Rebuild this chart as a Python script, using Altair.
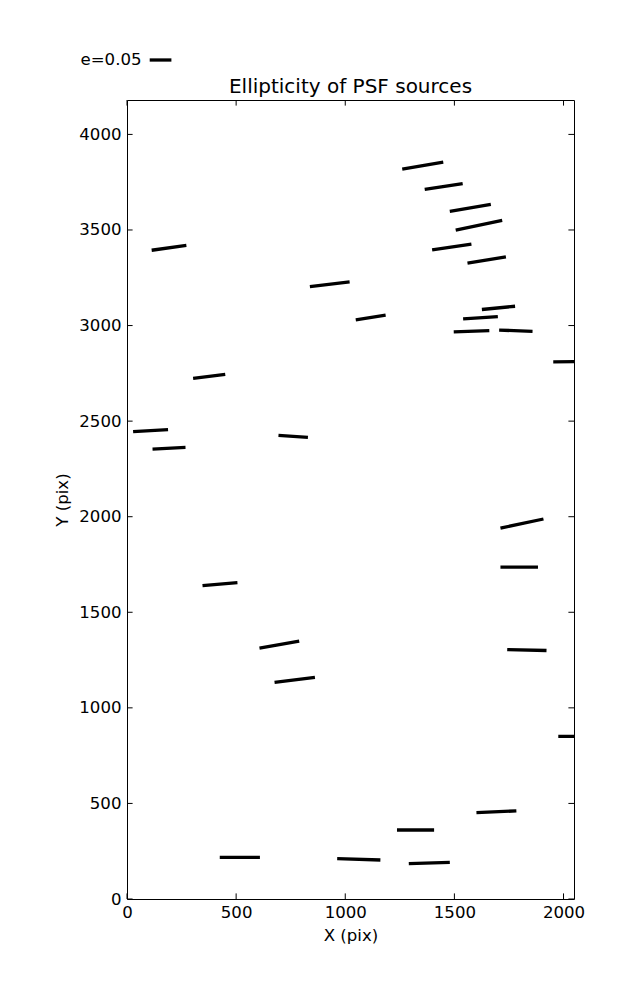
import altair as alt
import pandas as pd

# Whisker endpoints (data units, pix)
x1 = [1261, 1364, 1479, 1506, 1398, 1560, 1626, 1540, 1497, 1705,
      113, 838, 1048, 303, 28, 117, 694, 1953, 346, 607,
      676, 1711, 1711, 1742, 425, 963, 1237, 1291, 1601, 1976]
x2 = [1449, 1538, 1667, 1719, 1578, 1736, 1778, 1699, 1660, 1858,
      272, 1020, 1185, 450, 188, 268, 829, 2127, 506, 789,
      861, 1908, 1883, 1922, 609, 1161, 1407, 1479, 1784, 2145]
y1 = [3819, 3712, 3597, 3499, 3396, 3326, 3084, 3035, 2967, 2976,
      3394, 3204, 3030, 2724, 2445, 2354, 2426, 2810, 1639, 1312,
      1133, 1940, 1736, 1305, 218, 211, 361, 185, 452, 851]
y2 = [3855, 3742, 3634, 3550, 3426, 3359, 3101, 3047, 2974, 2970,
      3419, 3229, 3054, 2745, 2456, 2363, 2415, 2812, 1655, 1349,
      1160, 1988, 1736, 1300, 218, 204, 361, 192, 461, 851]

x_ticks = [0, 500, 1000, 1500, 2000]
y_ticks = [0, 500, 1000, 1500, 2000, 2500, 3000, 3500, 4000]
legend_label = ["e=0.05"]
title_text = ["Ellipticity of PSF sources"]

X_DOMAIN = [0, 2048]
Y_DOMAIN = [0, 4180]
W, H = 447, 799
TK = 5.6
FONT = "DejaVu Sans"
FS = 16.6

df = pd.DataFrame({"x1": x1, "x2": x2, "y1": y1, "y2": y2})
xs = alt.Scale(domain=X_DOMAIN, nice=False, zero=False)
ys = alt.Scale(domain=Y_DOMAIN, nice=False, zero=False)

xaxis = alt.Axis(values=x_ticks, ticks=False, domain=False, grid=False, format="d",
                 labelFont=FONT, labelFontSize=FS, labelColor="black",
                 labelPadding=5, titleFont=FONT, titleFontSize=FS,
                 titleFontWeight="normal", titleColor="black", titlePadding=7,
                 labelFlush=False)
yaxis = alt.Axis(values=y_ticks, ticks=False, domain=False, grid=False, format="d",
                 labelFont=FONT, labelFontSize=FS, labelColor="black",
                 labelPadding=6, titleFont=FONT, titleFontSize=FS,
                 titleFontWeight="normal", titleColor="black", titlePadding=8,
                 labelFlush=False)

def X(field):
    return alt.X(field, scale=xs, title="X (pix)", axis=xaxis)

def Y(field):
    return alt.Y(field, scale=ys, title="Y (pix)", axis=yaxis)

sticks = alt.Chart(df).mark_rule(strokeWidth=3.3, color="black", clip=True, strokeCap="butt").encode(
    x=X("x1:Q"), x2="x2:Q", y=Y("y1:Q"), y2="y2:Q",
)

xt = pd.DataFrame({"x1": x_ticks})
yt = pd.DataFrame({"y1": y_ticks})

bottom_ticks = alt.Chart(xt).mark_rule(color="black", strokeWidth=1).encode(
    x=X("x1:Q"), y=alt.value(H), y2=alt.value(H - TK))
top_ticks = alt.Chart(xt).mark_rule(color="black", strokeWidth=1).encode(
    x=X("x1:Q"), y=alt.value(0), y2=alt.value(TK))
left_ticks = alt.Chart(yt).mark_rule(color="black", strokeWidth=1).encode(
    y=Y("y1:Q"), x=alt.value(0), x2=alt.value(TK))
right_ticks = alt.Chart(yt).mark_rule(color="black", strokeWidth=1).encode(
    y=Y("y1:Q"), x=alt.value(W), x2=alt.value(W - TK))

leg_df = pd.DataFrame({"t": legend_label})
leg_text = alt.Chart(leg_df).mark_text(font=FONT, fontSize=FS, align="left",
                                       baseline="middle", color="black").encode(
    text="t:N", x=alt.value(-46.5), y=alt.value(-40))
leg_stick = alt.Chart(leg_df).mark_rule(strokeWidth=3.3, color="black", strokeCap="butt").encode(
    x=alt.value(22.7), x2=alt.value(44.4), y=alt.value(-40))

title_df = pd.DataFrame({"t": title_text})
title = alt.Chart(title_df).mark_text(font=FONT, fontSize=20, align="center",
                                      baseline="middle", color="black").encode(
    text="t:N", x=alt.value(W / 2), y=alt.value(-13))

chart = alt.layer(sticks, bottom_ticks, top_ticks, left_ticks, right_ticks,
                  leg_text, leg_stick, title).properties(
    width=W, height=H,
    padding={"left": 119, "top": 92, "right": 55, "bottom": 93},
    autosize="none",
).configure(background="white").configure_view(stroke="black", strokeWidth=1)

chart.save("out.html", embed_options={"renderer": "svg", "actions": False})
